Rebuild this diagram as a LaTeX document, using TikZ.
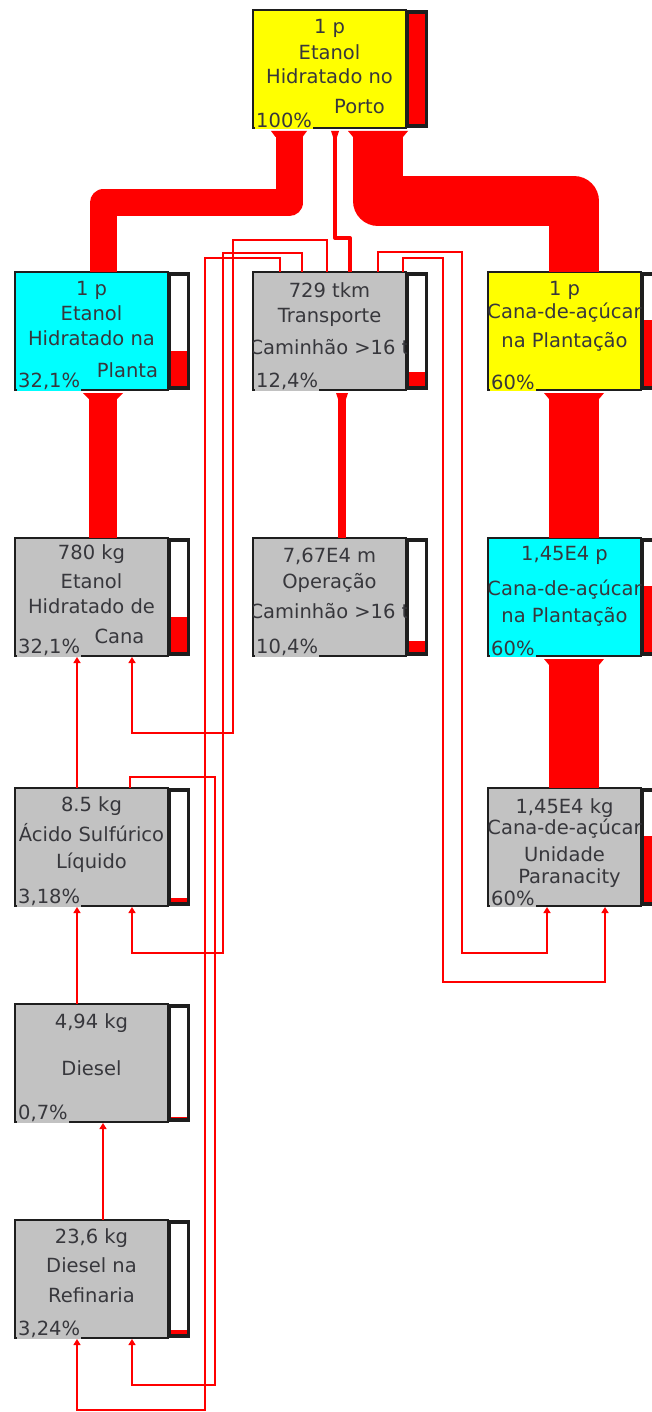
\documentclass[tikz,border=0pt]{standalone}
\usepackage{fontspec}
\setmainfont{DejaVu Sans}
\usetikzlibrary{calc,arrows.meta}
\definecolor{pyel}{RGB}{255,255,0}
\definecolor{pcyan}{RGB}{0,255,255}
\definecolor{pgray}{RGB}{194,194,194}
\definecolor{pred}{RGB}{255,0,0}
\definecolor{boxline}{RGB}{30,30,30}
\definecolor{txt}{RGB}{55,55,60}
\tikzset{
  proc/.style={draw=boxline, line width=2.4pt, minimum width=153pt, minimum height=118pt,
    anchor=north west, inner sep=0pt, outer sep=0pt},
  lbl/.style={font=\fontsize{19.5}{21}\selectfont, text=txt, inner sep=0pt},
  pct/.style={font=\fontsize{19.5}{21}\selectfont, text=txt, inner sep=1pt, anchor=south west},
  band/.style={draw=pred, line cap=butt, line join=round},
  feed/.style={draw=pred, line width=1.8pt, -{Triangle[length=6pt,width=7pt]}},
}
\newcommand\pbar[2]{%
  \fill[boxline] (#1.north east) rectangle ($(#1.south east)+(22,0)$);
  \fill[white] ($(#1.north east)+(3,4)$) rectangle ($(#1.south east)+(19,-4)$);
  \fill[pred] ($(#1.south east)+(3,-4)$) rectangle ($(#1.south east)+(19,-4-#2)$);}
\newcommand\proc[5]{%
  \node[proc, fill=#4] (#1) at (#2,#3) {};
  \pbar{#1}{#5}}
\newcommand\flare[3]{%
  \fill[pred] ($#1+(-#2,0)$) -- ($#1+(#2,0)$) -- ($#1+(#3,6)$) -- ($#1+(-#3,6)$) -- cycle;}
\begin{document}
\begin{tikzpicture}[x=1pt,y=-1pt]
\clip (0,0) rectangle (652,1412);
\fill[white] (0,0) rectangle (652,1412);

% boxes
\proc{porto}{253}{10}{pyel}{110}
\proc{planta}{15}{272}{pcyan}{35}
\proc{transp}{253}{272}{pgray}{14}
\proc{canaP}{488}{272}{pyel}{66}
\proc{hcana}{15}{538}{pgray}{35}
\proc{oper}{253}{538}{pgray}{11}
\proc{canaQ}{488}{538}{pcyan}{66}
\proc{acido}{15}{788}{pgray}{4}
\proc{parana}{488}{788}{pgray}{66}
\proc{diesel}{15}{1004}{pgray}{0.8}
\proc{refin}{15}{1220}{pgray}{4}

% thick flows
\draw[band, line width=27pt] ($(planta.north west)+(88,0)$) -- (103,203) -- (289,203) -- ($(porto.south west)+(36,3)$);
\flare{(porto.south west)+(36,3)}{18}{13.5}
\draw[band, line width=50pt] ($(canaP.north west)+(86,0)$) -- (574,201) -- (378,201) -- ($(porto.south west)+(125,3)$);
\flare{(porto.south west)+(125,3)}{30}{25}
\draw[band, line width=4pt] ($(transp.north west)+(97,0)$) -- (350,238) -- (335,238) -- ($(porto.south west)+(82,3)$);
\flare{(porto.south west)+(82,3)}{4}{2}
\draw[band, line width=28pt] ($(hcana.north west)+(88,0)$) -- ($(planta.south west)+(88,3)$);
\flare{(planta.south west)+(88,3)}{20}{14}
\draw[band, line width=8pt] ($(oper.north west)+(89,0)$) -- ($(transp.south west)+(89,3)$);
\flare{(transp.south west)+(89,3)}{6}{4}
\draw[band, line width=50pt] ($(canaQ.north west)+(86,0)$) -- ($(canaP.south west)+(86,3)$);
\flare{(canaP.south west)+(86,3)}{30}{25}
\draw[band, line width=50pt] ($(parana.north west)+(86,0)$) -- ($(canaQ.south west)+(86,3)$);
\flare{(canaQ.south west)+(86,3)}{30}{25}

% thin flows
\draw[feed] ($(transp.north west)+(74,0)$) -- (327,240) -- (233,240) -- (233,733) -- (132,733) -- ($(hcana.south west)+(117,1)$);
\draw[feed] ($(transp.north west)+(49,0)$) -- (302,253) -- (223,253) -- (223,953) -- (132,953) -- ($(acido.south west)+(117,1)$);
\draw[feed] ($(transp.north west)+(27,0)$) -- (280,258) -- (205,258) -- (205,1410) -- (77,1410) -- ($(refin.south west)+(62,1)$);
\draw[feed] ($(transp.north west)+(125,0)$) -- (378,252) -- (462,252) -- (462,953) -- (547,953) -- ($(parana.south west)+(59,1)$);
\draw[feed] ($(transp.north west)+(150,0)$) -- (403,258) -- (443,258) -- (443,982) -- (605,982) -- ($(parana.south west)+(117,1)$);
\draw[feed] ($(acido.north west)+(62,0)$) -- ($(hcana.south west)+(62,1)$);
\draw[feed] ($(acido.north west)+(115,0)$) -- (130,777) -- (215,777) -- (215,1385) -- (132,1385) -- ($(refin.south west)+(117,1)$);
\draw[feed] ($(diesel.north west)+(62,0)$) -- ($(acido.south west)+(62,1)$);
\draw[feed] ($(refin.north west)+(88,0)$) -- ($(diesel.south west)+(88,1)$);

% texts
\begin{scope}
\clip (porto.south west) rectangle (porto.north east);
\node[lbl] (porto-a) at ($(porto.north)+(0,18)$) {1 p};
\node[lbl] (porto-b) at ($(porto.north)+(0,42)$) {Etanol};
\node[lbl] (porto-c) at ($(porto.north)+(0,66)$) {Hidratado no};
\node[lbl] (porto-d) at ($(porto.north)+(30,97)$) {Porto};
\end{scope}
\node[pct, fill=pyel] (porto-p) at ($(porto.south west)+(2,1)$) {100\%};

\begin{scope}
\clip (planta.south west) rectangle (planta.north east);
\node[lbl] (planta-a) at ($(planta.north)+(0,18)$) {1 p};
\node[lbl] (planta-b) at ($(planta.north)+(0,41)$) {Etanol};
\node[lbl] (planta-c) at ($(planta.north)+(0,66)$) {Hidratado na};
\node[lbl] (planta-d) at ($(planta.north)+(36,98)$) {Planta};
\end{scope}
\node[pct, fill=pcyan] (planta-p) at ($(planta.south west)+(2,1)$) {32,1\%};

\begin{scope}
\clip (transp.south west) rectangle (transp.north east);
\node[lbl] (transp-a) at ($(transp.north)+(0,18)$) {729 tkm};
\node[lbl] (transp-b) at ($(transp.north)+(0,45)$) {Transporte};
\node[lbl] (transp-c) at ($(transp.north)+(0,75)$) {Caminhão >16 t};
\end{scope}
\node[pct, fill=pgray] (transp-p) at ($(transp.south west)+(2,1)$) {12,4\%};

\begin{scope}
\clip (canaP.south west) rectangle (canaP.north east);
\node[lbl] (canaP-a) at ($(canaP.north)+(0,18)$) {1 p};
\node[lbl] (canaP-b) at ($(canaP.north)+(0,41)$) {Cana-de-açúcar};
\node[lbl] (canaP-c) at ($(canaP.north)+(0,70)$) {na Plantação};
\end{scope}
\node[pct, fill=pyel] (canaP-p) at ($(canaP.south west)+(2,1)$) {60\%};

\begin{scope}
\clip (hcana.south west) rectangle (hcana.north east);
\node[lbl] (hcana-a) at ($(hcana.north)+(0,16)$) {780 kg};
\node[lbl] (hcana-b) at ($(hcana.north)+(0,43)$) {Etanol};
\node[lbl] (hcana-c) at ($(hcana.north)+(0,68)$) {Hidratado de};
\node[lbl] (hcana-d) at ($(hcana.north)+(28,98)$) {Cana};
\end{scope}
\node[pct, fill=pgray] (hcana-p) at ($(hcana.south west)+(2,1)$) {32,1\%};

\begin{scope}
\clip (oper.south west) rectangle (oper.north east);
\node[lbl] (oper-a) at ($(oper.north)+(0,18)$) {7,67E4 m};
\node[lbl] (oper-b) at ($(oper.north)+(0,45)$) {Operação};
\node[lbl] (oper-c) at ($(oper.north)+(0,73)$) {Caminhão >16 t};
\end{scope}
\node[pct, fill=pgray] (oper-p) at ($(oper.south west)+(2,1)$) {10,4\%};

\begin{scope}
\clip (canaQ.south west) rectangle (canaQ.north east);
\node[lbl] (canaQ-a) at ($(canaQ.north)+(0,17)$) {1,45E4 p};
\node[lbl] (canaQ-b) at ($(canaQ.north)+(0,52)$) {Cana-de-açúcar};
\node[lbl] (canaQ-c) at ($(canaQ.north)+(0,79)$) {na Plantação};
\end{scope}
\node[pct, fill=pcyan] (canaQ-p) at ($(canaQ.south west)+(2,1)$) {60\%};

\begin{scope}
\clip (acido.south west) rectangle (acido.north east);
\node[lbl] (acido-a) at ($(acido.north)+(0,18)$) {8.5 kg};
\node[lbl] (acido-b) at ($(acido.north)+(0,45)$) {Ácido Sulfúrico};
\node[lbl] (acido-c) at ($(acido.north)+(0,75)$) {Líquido};
\end{scope}
\node[pct, fill=pgray] (acido-p) at ($(acido.south west)+(2,1)$) {3,18\%};

\begin{scope}
\clip (parana.south west) rectangle (parana.north east);
\node[lbl] (parana-a) at ($(parana.north)+(0,20)$) {1,45E4 kg};
\node[lbl] (parana-b) at ($(parana.north)+(0,41)$) {Cana-de-açúcar};
\node[lbl] (parana-c) at ($(parana.north)+(0,66)$) {Unidade};
\node[lbl] (parana-d) at ($(parana.north)+(5,90)$) {Paranacity};
\end{scope}
\node[pct, fill=pgray] (parana-p) at ($(parana.south west)+(2,1)$) {60\%};

\begin{scope}
\clip (diesel.south west) rectangle (diesel.north east);
\node[lbl] (diesel-a) at ($(diesel.north)+(0,19)$) {4,94 kg};
\node[lbl] (diesel-b) at ($(diesel.north)+(0,64)$) {Diesel};
\end{scope}
\node[pct, fill=pgray] (diesel-p) at ($(diesel.south west)+(2,1)$) {0,7\%};

\begin{scope}
\clip (refin.south west) rectangle (refin.north east);
\node[lbl] (refin-a) at ($(refin.north)+(0,18)$) {23,6 kg};
\node[lbl] (refin-b) at ($(refin.north)+(0,45)$) {Diesel na};
\node[lbl] (refin-c) at ($(refin.north)+(0,75)$) {Refinaria};
\end{scope}
\node[pct, fill=pgray] (refin-p) at ($(refin.south west)+(2,1)$) {3,24\%};
\end{tikzpicture}
\end{document}
